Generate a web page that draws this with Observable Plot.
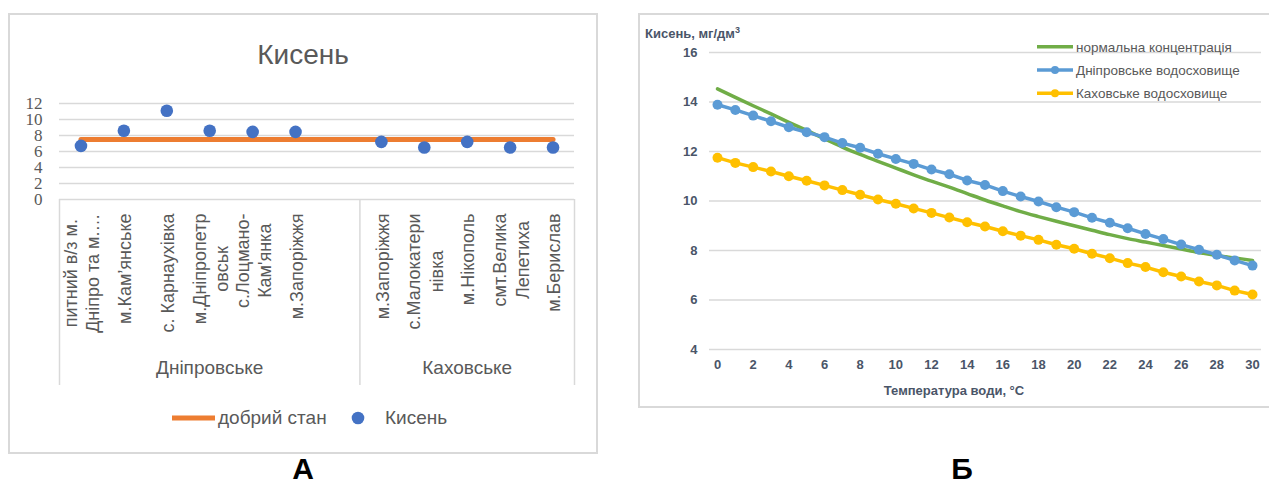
<!DOCTYPE html>
<html><head><meta charset="utf-8">
<script src="https://cdn.jsdelivr.net/npm/d3@7"></script>
<script src="https://cdn.jsdelivr.net/npm/@observablehq/plot@0.6"></script>
<style>
body{margin:0;background:#fff;}
#root{position:relative;width:1269px;height:483px;overflow:hidden;}
.abs{position:absolute;}
.box{position:absolute;border:2px solid #d9d9d9;box-sizing:border-box;}
</style></head><body><div id="root"></div>
<script>
// ---------- Panel A data ----------
const categoriesA = ["питний в/з м.\nДніпро та м.…", "м.Кам’янське", "с. Карнаухівка", "м.Дніпропетр\nовськ", "с.Лоцмано-\nКам'янка", "м.Запоріжжя", "", "м.Запоріжжя", "с.Малокатери\nнівка", "м.Нікополь", "смт.Велика\nЛепетиха", "м.Берислав"];
const groupsA = ["Дніпровське", "Каховське"];
const groupSizesA = [7, 5];
const oxygenA = [6.7, 8.6, 11.1, 8.6, 8.45, 8.45, null, 7.2, 6.5, 7.2, 6.5, 6.5];
const goodStateA = [7.5, 7.5, 7.5, 7.5, 7.5, 7.5, 7.5, 7.5, 7.5, 7.5, 7.5, 7.5];
const yTicksA = [0, 2, 4, 6, 8, 10, 12];
const titleA = "Кисень";
const legendA = ["добрий стан", "Кисень"];

// ---------- Panel B data ----------
const temperature = [0,1,2,3,4,5,6,7,8,9,10,11,12,13,14,15,16,17,18,19,20,21,22,23,24,25,26,27,28,29,30];
const normalB = [14.53,14.19,13.85,13.52,13.18,12.85,12.51,12.18,11.88,11.6,11.33,11.06,10.8,10.56,10.3,10.04,9.8,9.57,9.37,9.18,9.0,8.82,8.64,8.48,8.34,8.2,8.06,7.92,7.8,7.7,7.6];
const dniproB = [13.89,13.68,13.45,13.22,12.98,12.78,12.58,12.34,12.15,11.91,11.7,11.5,11.27,11.08,10.83,10.65,10.4,10.18,9.98,9.75,9.55,9.32,9.12,8.9,8.67,8.46,8.24,8.03,7.83,7.6,7.39];
const kakhovkaB = [11.75,11.54,11.37,11.19,11.0,10.82,10.63,10.44,10.25,10.06,9.89,9.7,9.52,9.33,9.14,8.97,8.78,8.6,8.43,8.23,8.07,7.87,7.69,7.49,7.33,7.12,6.95,6.75,6.59,6.38,6.22];
const xTicksB = [0,2,4,6,8,10,12,14,16,18,20,22,24,26,28,30];
const yTicksB = [4,6,8,10,12,14,16];
const seriesNamesB = ["нормальна концентрація", "Дніпровське водосховище", "Каховське водосховище"];
const seriesColorsB = ["#70AD47", "#5B9BD5", "#FFC000"];
const yTitleB = "Кисень, мг/дм";
const xTitleB = "Температура води, °C";
const panelLabels = ["А", "Б"];

// ---------- layout ----------
const root = document.getElementById("root");
const SANS = '"Liberation Sans", Arial, sans-serif';
const NARROW = '"Liberation Sans Narrow", "Liberation Sans", Arial, sans-serif';
const GRAY = "#595959";
const GRID = "#d9d9d9";

function addBox(l, t, r, b) {
  const d = document.createElement("div");
  d.className = "box";
  d.style.left = l + "px"; d.style.top = t + "px";
  d.style.width = (r - l) + "px"; d.style.height = (b - t) + "px";
  root.appendChild(d);
}
addBox(8, 13, 598, 454);
addBox(638, 13, 1271, 408);

// ---------- Panel A ----------
const LABEL_SIZE = 18;
const ctx = document.createElement("canvas").getContext("2d");
ctx.font = `${LABEL_SIZE}px ${NARROW}`;
const longest = s => d3.max(s.split("\n"), l => ctx.measureText(l).width) || 0;

const idx = categoriesA.map((_, i) => i);
const starts = groupSizesA.map((_, j) => d3.sum(groupSizesA.slice(0, j)));
const bounds = [...starts, d3.sum(groupSizesA)].map(v => v - 0.5);

const plotA = Plot.plot({
  width: 600, height: 460,
  marginLeft: 59, marginRight: 26, marginTop: 103, marginBottom: 261,
  x: {domain: [-0.5, categoriesA.length - 0.5], axis: null},
  y: {domain: [0, 12], axis: null},
  style: {background: "transparent", overflow: "visible"},
  marks: [
    Plot.ruleY(yTicksA, {stroke: GRID, strokeWidth: 1.5}),
    Plot.text(yTicksA, {y: d => d, frameAnchor: "left", dx: -17, textAnchor: "end",
      fontSize: 17, fontFamily: '"Liberation Serif", serif', fill: GRAY}),
    Plot.ruleX(bounds, {x: d => d, stroke: GRID, strokeWidth: 1.5, insetTop: 96, insetBottom: -186}),
    Plot.line(idx, {x: i => i, y: i => goodStateA[i], stroke: "#ED7D31", strokeWidth: 5}),
    Plot.dot(idx.filter(i => oxygenA[i] != null), {x: i => i, y: i => oxygenA[i], r: 6.3, fill: "#4472C4", stroke: "none"}),
    ...categoriesA.map((c, i) => Plot.text([c], {x: () => i, text: d => d, frameAnchor: "bottom",
      rotate: -90, textAnchor: "middle", lineAnchor: "middle", lineHeight: 1.25,
      dy: 14 + longest(c) / 2, fontSize: LABEL_SIZE, fontFamily: NARROW, fill: GRAY})),
    Plot.text(groupsA, {x: (g, j) => starts[j] + (groupSizesA[j] - 1) / 2, text: d => d,
      frameAnchor: "bottom", dy: 174, fontSize: 19, fontFamily: NARROW, fill: GRAY})
  ]
});
plotA.style.position = "absolute"; plotA.style.left = "0px"; plotA.style.top = "0px";
root.appendChild(plotA);

// ---------- Panel B ----------
const plotB = Plot.plot({
  width: 639, height: 420,
  marginLeft: 87, marginRight: 17, marginTop: 52, marginBottom: 71,
  x: {domain: [0, 30]},
  y: {domain: [4, 16]},
  style: {background: "transparent", overflow: "visible", color: "#4a5568"},
  marks: [
    Plot.ruleY(yTicksB, {stroke: GRID, strokeWidth: 1.5, insetLeft: -8, insetRight: -9}),
    Plot.axisX(xTicksB, {tickSize: 0, tickPadding: 10, fontSize: 13, fontWeight: "bold", fontFamily: SANS, label: null}),
    Plot.axisY(yTicksB, {tickSize: 0, tickPadding: 20, fontSize: 13, fontWeight: "bold", fontFamily: SANS, label: null}),
    Plot.line(temperature, {x: d => d, y: (d, i) => normalB[i], stroke: seriesColorsB[0], strokeWidth: 3.5, curve: "monotone-x"}),
    Plot.line(temperature, {x: d => d, y: (d, i) => dniproB[i], stroke: seriesColorsB[1], strokeWidth: 3.5}),
    Plot.dot(temperature, {x: d => d, y: (d, i) => dniproB[i], r: 5, fill: seriesColorsB[1], stroke: "none"}),
    Plot.line(temperature, {x: d => d, y: (d, i) => kakhovkaB[i], stroke: seriesColorsB[2], strokeWidth: 3.5}),
    Plot.dot(temperature, {x: d => d, y: (d, i) => kakhovkaB[i], r: 5, fill: seriesColorsB[2], stroke: "none"})
  ]
});
plotB.style.position = "absolute"; plotB.style.left = "630px"; plotB.style.top = "0px";
root.appendChild(plotB);

// ---------- overlay: titles, legends, panel letters ----------
const ov = d3.select(root).append("svg").attr("class", "abs")
  .attr("width", 1269).attr("height", 483).style("left", "0px").style("top", "0px")
  .style("pointer-events", "none");

ov.append("text").attr("x", 303).attr("y", 64).attr("text-anchor", "middle")
  .attr("font-family", NARROW).attr("font-size", 28).attr("fill", GRAY).text(titleA);

// legend A
ov.append("line").attr("x1", 172).attr("x2", 215).attr("y1", 418).attr("y2", 418)
  .attr("stroke", "#ED7D31").attr("stroke-width", 5);
ov.append("text").attr("x", 218).attr("y", 424).attr("font-family", NARROW).attr("font-size", 19)
  .attr("fill", GRAY).text(legendA[0]);
ov.append("circle").attr("cx", 358).attr("cy", 418).attr("r", 6.3).attr("fill", "#4472C4");
ov.append("text").attr("x", 385).attr("y", 424).attr("font-family", NARROW).attr("font-size", 19)
  .attr("fill", GRAY).text(legendA[1]);

// panel B titles
const yt = ov.append("text").attr("x", 645).attr("y", 38).attr("font-family", SANS)
  .attr("font-size", 13).attr("font-weight", "bold").attr("fill", "#4a5568");
yt.append("tspan").text(yTitleB);
yt.append("tspan").attr("font-size", 9).attr("dy", -5).text("3");
ov.append("text").attr("x", 954).attr("y", 395).attr("text-anchor", "middle").attr("font-family", SANS)
  .attr("font-size", 13).attr("font-weight", "bold").attr("fill", "#4a5568").text(xTitleB);

// legend B
seriesNamesB.forEach((name, i) => {
  const y = 46.7 + i * 23.3;
  ov.append("line").attr("x1", 1037).attr("x2", 1073).attr("y1", y).attr("y2", y)
    .attr("stroke", seriesColorsB[i]).attr("stroke-width", 3.5);
  if (i > 0) ov.append("circle").attr("cx", 1055).attr("cy", y).attr("r", 4).attr("fill", seriesColorsB[i]);
  ov.append("text").attr("x", 1076).attr("y", y + 5).attr("font-family", SANS).attr("font-size", 13.5)
    .attr("fill", GRAY).text(name);
});

// panel letters
[303, 962].forEach((x, i) => {
  ov.append("text").attr("x", x).attr("y", 479).attr("text-anchor", "middle").attr("font-family", SANS)
    .attr("font-size", 30).attr("font-weight", "bold").attr("fill", "#000").text(panelLabels[i]);
});
</script></body></html>
